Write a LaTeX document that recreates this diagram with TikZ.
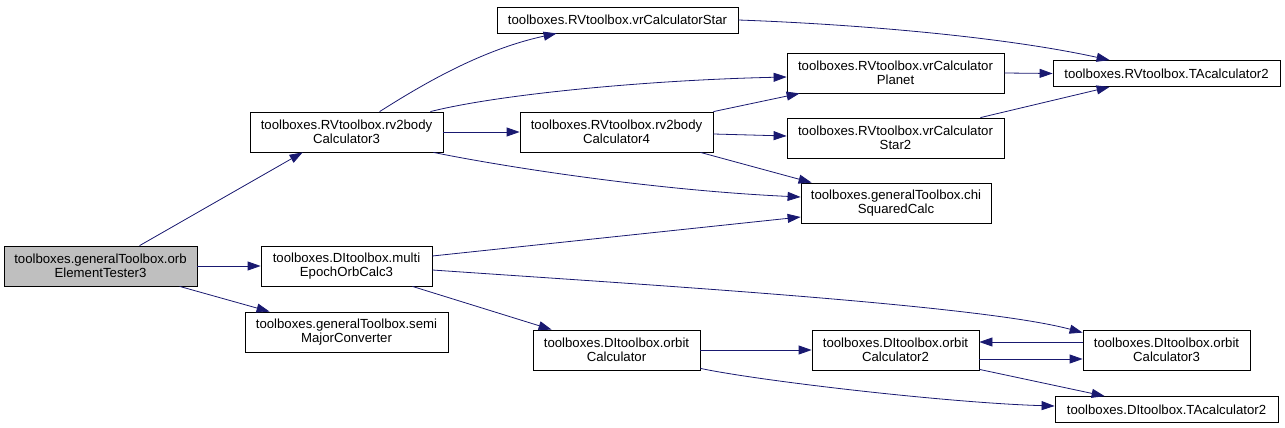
\documentclass[tikz,border=0pt]{standalone}
\usepackage{fontspec}
\setmainfont{Liberation Sans}
\usetikzlibrary{arrows.meta}
\definecolor{edgeblue}{HTML}{191970}
\definecolor{rootgray}{HTML}{BFBFBF}

\begin{document}
\begin{tikzpicture}[
  x=1pt, y=-1pt,
  font=\fontsize{13.2}{14.5}\selectfont,
  fn/.style={draw=black, line width=0.8pt, fill=white, inner sep=0pt,
             minimum width=#1, minimum height=40pt, align=center},
  fnone/.style={fn=#1, minimum height=26pt},
  root/.style={fn=#1, fill=rootgray},
  call/.style={draw=edgeblue, line width=0.8pt, -{Triangle[length=13pt,width=9pt]}},
]
\useasboundingbox (0,0) rectangle (1285,428);

% functions
\node[root=193pt]  (tester)     at (100.5,266) {toolboxes.generalToolbox.orb\\ElementTester3};
\node[fn=193pt]    (rvthree)    at (346.5,132) {toolboxes.RVtoolbox.rv2body\\Calculator3};
\node[fn=171pt]    (multi)      at (346.5,266) {toolboxes.DItoolbox.multi\\EpochOrbCalc3};
\node[fn=203pt]    (semi)       at (346.5,332) {toolboxes.generalToolbox.semi\\MajorConverter};
\node[fnone=241pt] (vrstar)     at (617.5,20)  {toolboxes.RVtoolbox.vrCalculatorStar};
\node[fn=193pt]    (rvfour)     at (616.5,132) {toolboxes.RVtoolbox.rv2body\\Calculator4};
\node[fn=167pt]    (orbit)      at (616.5,350) {toolboxes.DItoolbox.orbit\\Calculator};
\node[fn=217pt]    (vrplanet)   at (895.5,73)  {toolboxes.RVtoolbox.vrCalculator\\Planet};
\node[fn=217pt]    (vrstartwo)  at (895.5,138) {toolboxes.RVtoolbox.vrCalculator\\Star2};
\node[fn=190pt]    (chi)        at (896,203)   {toolboxes.generalToolbox.chi\\SquaredCalc};
\node[fn=167pt]    (orbittwo)   at (895.5,350) {toolboxes.DItoolbox.orbit\\Calculator2};
\node[fnone=227pt] (tarv)       at (1166.5,73.5) {toolboxes.RVtoolbox.TAcalculator2};
\node[fn=167pt]    (orbitthree) at (1166.5,350) {toolboxes.DItoolbox.orbit\\Calculator3};
\node[fnone=223pt] (tadi)       at (1166.5,409.5) {toolboxes.DItoolbox.TAcalculator2};

% calls
\draw[call] ([xshift=136pt]tester.north west) -- ([xshift=53pt]rvthree.south west);
\draw[call] (tester.east) -- (multi.west);
\draw[call] ([xshift=176pt]tester.south west) -- ([xshift=25pt]semi.north west);

\draw[call] ([xshift=130pt]rvthree.north west) .. controls (420,86) and (480,50) .. ([xshift=60pt]vrstar.south west);
\draw[call] ([xshift=-13pt]rvthree.north east) .. controls (500,94) and (650,80) .. ([yshift=-4pt]vrplanet.west);
\draw[call] (rvthree.east) -- (rvfour.west);
\draw[call] ([xshift=-10pt]rvthree.south east) .. controls (500,166) and (650,190) .. ([yshift=6pt]chi.west);

\draw[call] (rvfour.north east) -- ([xshift=13pt]vrplanet.south west);
\draw[call] ([yshift=-2pt]rvfour.east) -- ([yshift=2pt]vrstartwo.west);
\draw[call] ([xshift=-13pt]rvfour.south east) -- ([xshift=11pt]chi.north west);

\draw[call] (vrstar.east) .. controls (850,24) and (1000,36) .. ([xshift=57pt]tarv.north west);
\draw[call] (vrplanet.east) -- (tarv.west);
\draw[call] ([xshift=-24pt]vrstartwo.north east) -- ([xshift=57pt]tarv.south west);

\draw[call] ([yshift=10pt]multi.east) -- ([yshift=-14pt]chi.west);
\draw[call] ([yshift=-4pt]multi.east) .. controls (650,285) and (980,305) .. ([yshift=-3pt]orbitthree.north west);
\draw[call] ([xshift=-20pt]multi.south east) -- ([xshift=19pt]orbit.north west);

\draw[call] (orbit.east) -- (orbittwo.west);
\draw[call] ([yshift=2pt]orbit.south east) .. controls (760,381) and (950,403) .. ([yshift=3.5pt]tadi.west);

\draw[call] ([yshift=-9pt]orbittwo.east) -- ([yshift=-9pt]orbitthree.west);
\draw[call] ([yshift=8pt]orbitthree.west) -- ([yshift=8pt]orbittwo.east);
\draw[call] ([yshift=1pt]orbittwo.south east) -- ([xshift=50pt]tadi.north west);

\end{tikzpicture}
\end{document}
